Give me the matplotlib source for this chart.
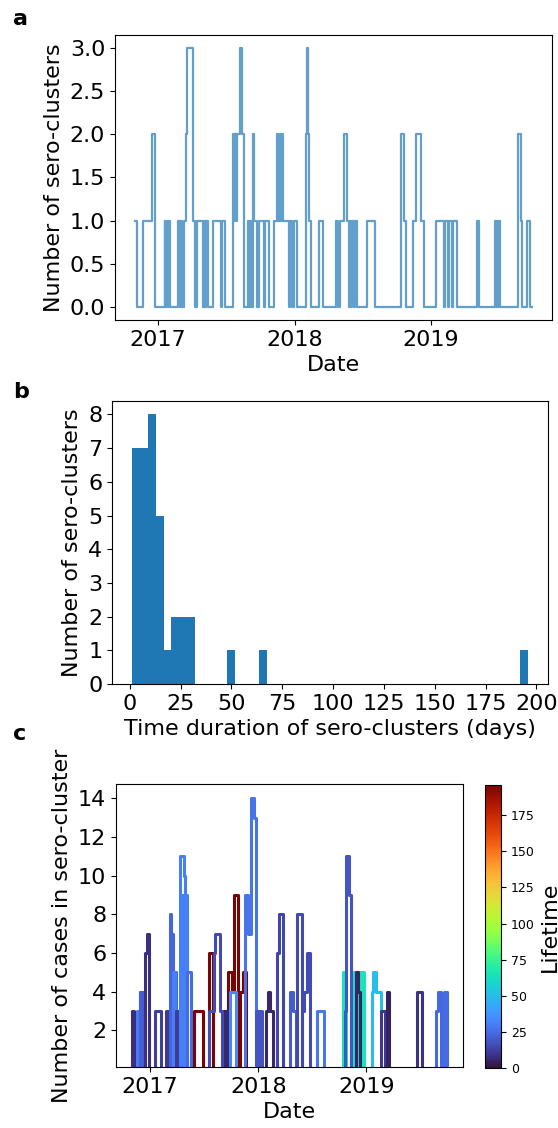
"""
Sero-cluster overview, 2016-2019.
a) number of active sero-clusters per day
b) histogram of sero-cluster durations
c) number of cases in each sero-cluster over time, coloured by lifetime
"""

import numpy as np
import pandas as pd
import matplotlib
matplotlib.use("Agg")
import matplotlib.pyplot as plt
import matplotlib.dates as mdates
import matplotlib.ticker as mticker
from matplotlib import colors, cm

plt.rcParams["font.size"] = 16

# ---------------------------------------------------------------------------
# Data (days counted from START)
# ---------------------------------------------------------------------------
START = pd.Timestamp("2016-10-31")

# a) active sero-clusters, step changes
a_day = [0, 7, 22, 47, 53, 80, 82, 85, 88, 90, 95, 115, 120, 122, 125, 131,
         137, 140, 155, 162, 167, 182, 184, 188, 191, 195, 208, 231, 233, 241,
         262, 263, 266, 269, 271, 274, 282, 286, 293, 302, 304, 308, 312, 315,
         317, 319, 328, 331, 346, 349, 359, 373, 380, 384, 387, 390, 393, 397,
         412, 415, 419, 426, 433, 457, 459, 461, 463, 466, 470, 492, 504, 537,
         543, 548, 559, 568, 572, 575, 578, 582, 585, 589, 594, 621, 643, 711,
         713, 720, 726, 743, 752, 765, 772, 805, 827, 829, 838, 841, 847, 850,
         862, 915, 919, 962, 965, 968, 971, 974, 977, 1024, 1025, 1032, 1036,
         1048, 1056, 1062]
a_count = [1, 0, 1, 2, 0, 1, 0, 1, 0, 1, 0, 1, 0, 1, 0, 1,
           2, 3, 1, 0, 1, 0, 1, 0, 1, 0, 1, 0, 1, 0,
           1, 2, 1, 2, 1, 2, 3, 2, 0, 1, 0, 1, 0, 1,
           2, 1, 0, 1, 0, 1, 0, 1, 2, 1, 2, 1, 2, 1,
           0, 1, 0, 1, 0, 1, 2, 3, 2, 1, 0, 1, 0, 1,
           0, 1, 2, 1, 0, 1, 0, 1, 0, 1, 0, 1, 0, 1,
           2, 1, 0, 1, 2, 1, 0, 1, 0, 1, 0, 1, 0, 1,
           0, 1, 0, 1, 0, 1, 0, 1, 0, 1, 2, 1, 0,
           1, 0, 0]

# b) duration of each sero-cluster (days)
durations = [1, 2, 3, 3, 4, 4, 4, 5, 6, 6, 7, 7, 8, 8, 9, 9, 10, 10, 11, 11,
             12, 12, 13, 14, 14, 15, 16, 18, 21, 23, 25, 27, 29, 31, 50, 65, 196]

# c) cases per sero-cluster
cl_lifetime = [7, 30, 21, 8, 12, 10, 23, 31, 11, 31, 31, 25, 196, 16, 6, 33,
               27, 18, 6, 14, 20, 15, 16, 29, 65, 18, 5, 50, 10, 4, 9, 24, 25]
cl_days = [
    [0, 9],
    [18, 28, 38],
    [29, 38],
    [46, 50, 58],
    [80, 97],
    [114, 127],
    [129, 134, 140, 150],
    [138, 146],
    [150, 161],
    [164, 176, 180, 186],
    [171, 179],
    [186, 200],
    [209, 242, 262, 273, 307, 324, 337, 346, 357, 366, 374, 384],
    [262, 276, 281, 297, 303],
    [316, 326],
    [333, 352],
    [383, 391, 403, 413, 418],
    [419, 424, 426, 431, 433, 438],
    [453, 461, 468, 476],
    [490, 497, 509],
    [535, 545, 554],
    [557, 573],
    [573, 583, 593, 602],
    [625, 650],
    [712, 717, 720, 724, 748, 752, 756, 760, 766, 772, 778, 784],
    [719, 723, 733, 740],
    [756, 763, 771],
    [812, 816, 824, 843, 857],
    [840, 854],
    [862, 870],
    [964, 980],
    [1026, 1034, 1043],
    [1054, 1065],
]
cl_cases = [
    [3, 0],
    [3, 4, 0],
    [4, 0],
    [6, 7, 0],
    [3, 0],
    [3, 0],
    [8, 7, 5, 0],
    [5, 0],
    [3, 0],
    [11, 10, 9, 0],
    [9, 0],
    [5, 0],
    [3, 0, 6, 0, 3, 5, 4, 9, 0, 4, 5, 0],
    [3, 6, 7, 3, 0],
    [3, 0],
    [4, 0],
    [9, 7, 14, 13, 0],
    [3, 0, 3, 0, 3, 0],
    [3, 4, 3, 0],
    [6, 8, 0],
    [4, 3, 0],
    [8, 0],
    [3, 4, 6, 0],
    [3, 0],
    [5, 0, 5, 0, 5, 0, 5, 0, 5, 0, 5, 0],
    [3, 11, 9, 0],
    [5, 4, 0],
    [4, 5, 4, 3, 0],
    [3, 0],
    [4, 0],
    [4, 0],
    [3, 4, 0],
    [4, 0],
]


def to_dates(days):
    return START + pd.to_timedelta(np.asarray(days), unit="D")


# ---------------------------------------------------------------------------
# Figure
# ---------------------------------------------------------------------------
fig = plt.figure(figsize=(5.58, 11.28), dpi=100)

ax_a = fig.add_axes([0.206, 0.7163, 0.783, 0.2527])
ax_b = fig.add_axes([0.2007, 0.3936, 0.7814, 0.2509])
ax_c = fig.add_axes([0.2079, 0.0541, 0.6219, 0.2509])
cax = fig.add_axes([0.8692, 0.0532, 0.0287, 0.2509])

# -- a: active clusters --
ax_a.step(to_dates(a_day), a_count, where="post", color="tab:blue",
          alpha=0.7, linewidth=1.6)
ax_a.set_xlabel("Date")
ax_a.set_ylabel("Number of sero-clusters")
ax_a.xaxis.set_major_locator(mdates.YearLocator())
ax_a.xaxis.set_major_formatter(mdates.DateFormatter("%Y"))
ax_a.yaxis.set_major_locator(mticker.MultipleLocator(0.5))

# -- b: durations --
ax_b.hist(durations, bins=50, color="tab:blue")
ax_b.set_xlabel("Time duration of sero-clusters (days)")
ax_b.set_ylabel("Number of sero-clusters")
ax_b.yaxis.set_major_locator(mticker.MultipleLocator(1))
ax_b.xaxis.set_major_locator(mticker.MultipleLocator(25))

# -- c: cases per cluster --
cmap = plt.get_cmap("turbo")
norm = colors.Normalize(vmin=0, vmax=max(durations))
for lt, days, cases in zip(cl_lifetime, cl_days, cl_cases):
    ax_c.step(to_dates([days[0]] + days), [0] + cases, where="post",
              color=cmap(norm(lt)), linewidth=2.2)
ax_c.set_ylim(0.1, 14.75)
ax_c.set_xlabel("Date")
ax_c.set_ylabel("Number of cases in sero-cluster")
ax_c.xaxis.set_major_locator(mdates.YearLocator())
ax_c.xaxis.set_major_formatter(mdates.DateFormatter("%Y"))
ax_c.yaxis.set_major_locator(mticker.MultipleLocator(2))

sm = cm.ScalarMappable(norm=norm, cmap=cmap)
cb = fig.colorbar(sm, cax=cax)
cb.ax.tick_params(labelsize=9)
cb.set_label("Lifetime", fontsize=16)

# panel letters
for letter, y in [("a", 0.978), ("b", 0.647), ("c", 0.344)]:
    fig.text(0.024, y, letter, fontsize=16, fontweight="bold", va="baseline")

fig.savefig("out.png", dpi=100)
